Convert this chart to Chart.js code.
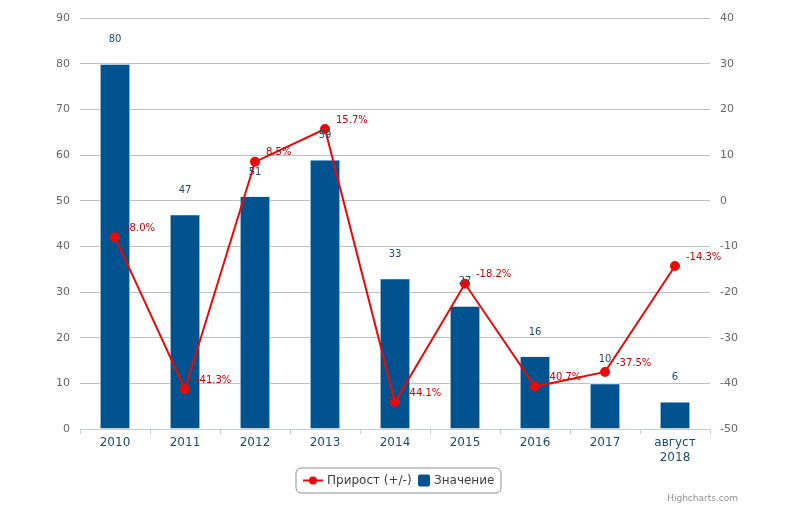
<!DOCTYPE html>
<html>
<head>
<meta charset="utf-8">
<script src="https://cdn.jsdelivr.net/npm/chart.js@4"></script>
<style>
  html, body { margin: 0; padding: 0; background: #fff; }
  #wrap { width: 806px; height: 522px; position: relative; }
</style>
</head>
<body>
<div id="wrap"><canvas id="chart"></canvas></div>
<script>
// данные графика
const categories = ['2010', '2011', '2012', '2013', '2014', '2015', '2016', '2017', ['август', '2018']];
const values = [80, 47, 51, 59, 33, 27, 16, 10, 6];
const growth = [-8.0, -41.3, 8.5, 15.7, -44.1, -18.2, -40.7, -37.5, -14.3];
const leftTicks = [0, 10, 20, 30, 40, 50, 60, 70, 80, 90];
const rightTicks = [-50, -40, -30, -20, -10, 0, 10, 20, 30, 40];

const FONT = '"DejaVu Sans", Verdana, sans-serif';
const BAR_COLOR = '#00538f';
const LINE_COLOR = '#e80a0a';
const LABEL_BLUE = '#1d4a73';
const LABEL_RED = '#c40000';

// подписи значений над столбцами и у точек
const dataLabels = {
    id: 'dataLabels',
    afterDatasetsDraw(chart) {
        const ctx = chart.ctx;
        ctx.save();
        ctx.font = '10px ' + FONT;
        ctx.textBaseline = 'middle';

        const bars = chart.getDatasetMeta(1).data;
        ctx.fillStyle = LABEL_BLUE;
        ctx.textAlign = 'center';
        bars.forEach((bar, i) => {
            ctx.fillText(String(values[i]), bar.x, bar.y - 24);
        });

        const points = chart.getDatasetMeta(0).data;
        ctx.fillStyle = LABEL_RED;
        ctx.textAlign = 'left';
        points.forEach((pt, i) => {
            ctx.fillText(growth[i].toFixed(1) + '%', pt.x + 11, pt.y - 9);
        });
        ctx.restore();
    }
};

// легенда в рамке и подпись Highcharts
const legendBox = {
    id: 'legendBox',
    afterDraw(chart) {
        const ctx = chart.ctx;
        ctx.save();
        const x = 296, y = 468, w = 205, h = 25, r = 5;
        ctx.beginPath();
        ctx.moveTo(x + r, y);
        ctx.arcTo(x + w, y, x + w, y + h, r);
        ctx.arcTo(x + w, y + h, x, y + h, r);
        ctx.arcTo(x, y + h, x, y, r);
        ctx.arcTo(x, y, x + w, y, r);
        ctx.closePath();
        ctx.strokeStyle = '#909090';
        ctx.lineWidth = 1;
        ctx.stroke();

        const cy = y + h / 2;
        ctx.strokeStyle = LINE_COLOR;
        ctx.lineWidth = 2;
        ctx.beginPath();
        ctx.moveTo(303, cy);
        ctx.lineTo(323, cy);
        ctx.stroke();
        ctx.fillStyle = LINE_COLOR;
        ctx.beginPath();
        ctx.arc(313, cy, 4, 0, Math.PI * 2);
        ctx.fill();

        ctx.font = '12px ' + FONT;
        ctx.textBaseline = 'middle';
        ctx.textAlign = 'left';
        ctx.fillStyle = '#3e3e3e';
        ctx.fillText('Прирост (+/-)', 327, cy);

        ctx.fillStyle = BAR_COLOR;
        ctx.beginPath();
        ctx.roundRect(418, cy - 6, 12, 12, 2);
        ctx.fill();
        ctx.fillStyle = '#3e3e3e';
        ctx.fillText('Значение', 434, cy);

        ctx.font = '9px ' + FONT;
        ctx.fillStyle = '#909090';
        ctx.textAlign = 'right';
        ctx.fillText('Highcharts.com', 738, 499);
        ctx.restore();
    }
};

const ctx = document.getElementById('chart').getContext('2d');
new Chart(ctx, {
    type: 'bar',
    data: {
        labels: categories,
        datasets: [
            {
                type: 'line',
                label: 'Прирост (+/-)',
                data: growth,
                yAxisID: 'y2',
                borderColor: LINE_COLOR,
                backgroundColor: LINE_COLOR,
                borderWidth: 2,
                pointRadius: 4,
                pointHoverRadius: 4,
                tension: 0,
                order: 0
            },
            {
                type: 'bar',
                label: 'Значение',
                data: values,
                yAxisID: 'y',
                backgroundColor: BAR_COLOR,
                borderColor: '#e6f2f6',
                borderWidth: 1,
                barPercentage: 0.44,
                categoryPercentage: 1,
                order: 1
            }
        ]
    },
    options: {
        responsive: true,
        maintainAspectRatio: false,
        animation: false,
        layout: { padding: { top: 18, left: 0, right: 0, bottom: 0 } },
        plugins: {
            legend: { display: false },
            tooltip: { enabled: false }
        },
        scales: {
            x: {
                offset: true,
                grid: {
                    offset: true,
                    drawOnChartArea: false,
                    drawTicks: true,
                    tickLength: 5,
                    color: '#c0d0e0'
                },
                border: { color: '#c0d0e0' },
                ticks: {
                    color: LABEL_BLUE,
                    font: { family: FONT, size: 12 },
                    padding: 2,
                    maxRotation: 0,
                    autoSkip: false
                },
                afterFit(scale) { scale.height = 93; }
            },
            y: {
                position: 'left',
                min: 0,
                max: 90,
                afterBuildTicks(scale) { scale.ticks = leftTicks.map(v => ({ value: v })); },
                grid: { color: '#c0c0c0', drawTicks: false },
                border: { display: false },
                ticks: {
                    color: '#666',
                    font: { family: FONT, size: 11 },
                    padding: 10
                },
                afterFit(scale) { scale.width = 80; }
            },
            y2: {
                position: 'right',
                min: -50,
                max: 40,
                afterBuildTicks(scale) { scale.ticks = rightTicks.map(v => ({ value: v })); },
                grid: { drawOnChartArea: false, drawTicks: false },
                border: { display: false },
                ticks: {
                    color: '#666',
                    font: { family: FONT, size: 11 },
                    padding: 10
                },
                afterFit(scale) { scale.width = 96; }
            }
        }
    },
    plugins: [dataLabels, legendBox]
});
</script>
</body>
</html>
